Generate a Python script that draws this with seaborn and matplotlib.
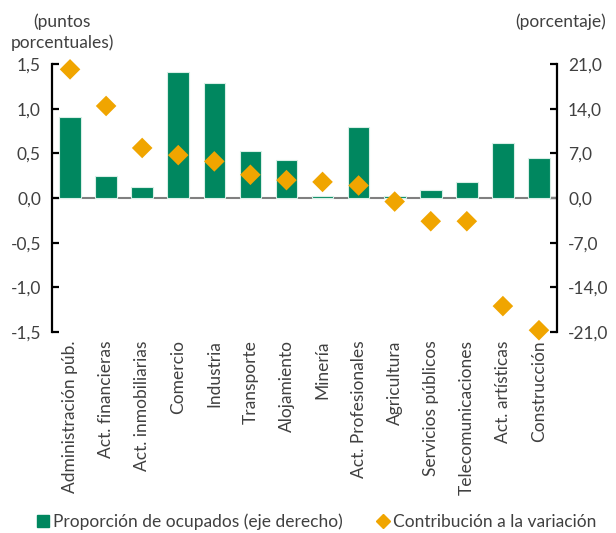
import matplotlib
matplotlib.use("Agg")
import matplotlib.pyplot as plt
from matplotlib.lines import Line2D
from matplotlib.ticker import FuncFormatter, FixedLocator
import seaborn as sns
import pandas as pd

sectores = ["Administración púb.", "Act. financieras", "Act. inmobiliarias", "Comercio",
            "Industria", "Transporte", "Alojamiento", "Minería", "Act. Profesionales",
            "Agricultura", "Servicios públicos", "Telecomunicaciones", "Act. artísticas",
            "Construcción"]
proporcion = [12.7, 3.5, 1.7, 19.7, 18.1, 7.4, 6.0, 0.3, 11.2, 0.3, 1.3, 2.5, 8.6, 6.2]
contribucion = [1.44, 1.03, 0.56, 0.48, 0.41, 0.26, 0.20, 0.18, 0.14, -0.04, -0.26, -0.26, -1.21, -1.48]

left_ticks = [1.5, 1.0, 0.5, 0.0, -0.5, -1.0, -1.5]
right_ticks = [21, 14, 7, 0, -7, -14, -21]

df = pd.DataFrame({"sector": sectores, "proporcion": proporcion, "contribucion": contribucion})

sns.set_theme(style="white")
plt.rcParams["font.family"] = ["Lato", "DejaVu Sans"]
TXT = "#404040"
VERDE = "#00875F"
NARANJA = "#F0A500"
FS = 12.5

fig = plt.figure(figsize=(6.16, 5.33), dpi=100)
ax_bar = fig.add_axes([52 / 616, 1 - 332 / 533, (557 - 52) / 616, (332 - 64) / 533])
ax_pt = ax_bar.twinx()

# bars: share of employed, right-hand axis
sns.barplot(data=df, x="sector", y="proporcion", order=sectores, color=VERDE,
            saturation=1, width=0.6, edgecolor="#d8eee6", linewidth=0.8, ax=ax_bar, zorder=2)
ax_bar.set_ylim(-21, 21)
ax_bar.axhline(0, color="#808080", lw=1.5, zorder=1)
ax_bar.set_xlabel("")
ax_bar.set_ylabel("")

# diamonds: contribution to the change, left-hand axis
sns.scatterplot(data=df, x="sector", y="contribucion", marker="D", s=110, color=NARANJA,
                edgecolor="none", ax=ax_pt, zorder=3, legend=False, clip_on=False)
ax_pt.set_ylim(-1.5, 1.5)
ax_pt.set_ylabel("")
ax_pt.set_xlabel("")
ax_bar.set_xlim(-0.5, len(sectores) - 0.5)

comma = FuncFormatter(lambda v, p: f"{v:.1f}".replace(".", ","))
ax_bar.yaxis.tick_right()
ax_bar.yaxis.set_label_position("right")
ax_bar.yaxis.set_major_locator(FixedLocator(right_ticks))
ax_bar.yaxis.set_major_formatter(comma)
ax_pt.yaxis.tick_left()
ax_pt.yaxis.set_label_position("left")
ax_pt.yaxis.set_major_locator(FixedLocator(left_ticks))
ax_pt.yaxis.set_major_formatter(comma)

for a in (ax_bar, ax_pt):
    for side in ("top", "bottom"):
        a.spines[side].set_visible(False)
ax_bar.spines["left"].set_visible(False)
ax_bar.spines["right"].set_color("black")
ax_bar.spines["right"].set_linewidth(1.6)
ax_pt.spines["right"].set_visible(False)
ax_pt.spines["left"].set_color("black")
ax_pt.spines["left"].set_linewidth(1.6)

for a in (ax_bar, ax_pt):
    a.tick_params(axis="y", direction="in", length=5, width=1.6, colors="black",
                  labelcolor=TXT, labelsize=FS, pad=8)
ax_bar.tick_params(axis="x", length=0, labelsize=FS, labelcolor=TXT, rotation=90, pad=6)
ax_pt.tick_params(axis="x", length=0, labelbottom=False)

fig.text(62 / 616, 1 - 32 / 533, "(puntos\nporcentuales)", ha="center", va="center",
         fontsize=FS, color=TXT, linespacing=1.35)
fig.text(561 / 616, 1 - 22 / 533, "(porcentaje)", ha="center", va="center",
         fontsize=FS, color=TXT)

handles = [
    Line2D([], [], marker="s", linestyle="none", color=VERDE, markersize=8,
           label="Proporción de ocupados (eje derecho)"),
    Line2D([], [], marker="D", linestyle="none", color=NARANJA, markersize=7,
           label="Contribución a la variación"),
]
fig.legend(handles=handles, loc="center", bbox_to_anchor=(0.512, 1 - 522 / 533), ncol=2,
           frameon=False, fontsize=FS, handletextpad=0.1, columnspacing=1.8,
           handlelength=1.0, labelcolor=TXT)

fig.savefig("out.png", dpi=100)
